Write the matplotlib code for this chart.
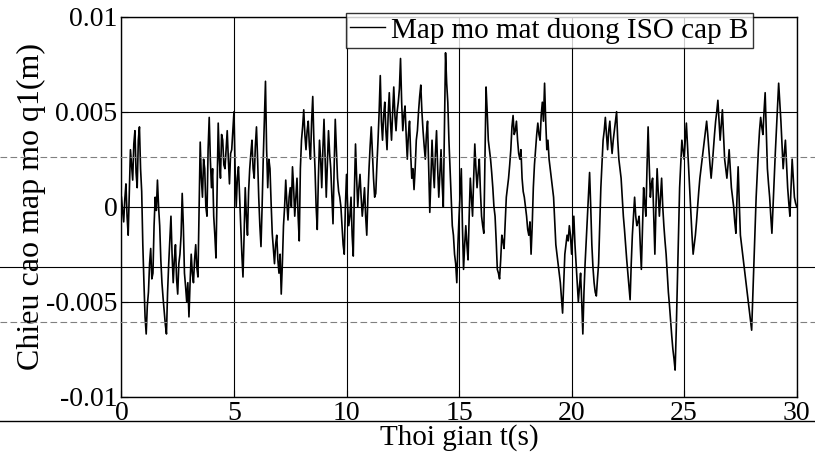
import numpy as np
import matplotlib
matplotlib.use("Agg")
import matplotlib.pyplot as plt
from matplotlib.lines import Line2D

# road roughness q1, every 0.1 s, in units of 1e-4 m
q_raw = [
    5, -8, 12, -15, 30, 14, 40, 10, 42, 8,
    -40, -67, -45, -22, -35, 5, 14, -10, -40, -55,
    -67, -30, -5, -40, -20, -46, -25, 7, -35, -50,
    -58, -25, -40, -20, -37, 34, 5, 20, -5, 47,
    10, -5, -27, 44, 15, 35, 20, 40, 12, 30,
    50, 0, 21, -10, -37, 10, -15, 20, 35, 15,
    42, 5, -21, 25, 66, 10, 20, -14, -30, -15,
    -35, -46, -10, 14, -7, 10, 21, -5, 15, -18,
    35, 51, 30, 45, 25, 58, 20, -12, 35, 10,
    46, 5, 40, 20, -9, 46, 15, 5, -10, -25,
    17, -10, 5, -26, 33, 0, 17, -5, 10, -15,
    20, 42, 15, 7, 35, 69, 35, 55, 30, 60,
    35, 63, 40, 55, 78, 40, 53, 25, 45, 15,
    9, 35, 50, 64, 40, 25, 45, -3, 35, 10,
    40, 5, 30, 0, 81, 55, 20, -10, -25, -40,
    -5, 20, -33, -10, -28, 15, -5, 33, 10, 25,
    -5, -14, 63, 35, 25, 10, -5, -33, -38, -15,
    -22, 5, 15, 30, 48, 40, 35, 25, 15, 5,
    -5, -15, -25, 10, 30, 44, 35, 55, 65, 30,
    25, 15, 5, -20, -30, -40, -56, -25, -15, -10,
    -25, -5, -30, -50, -35, -67, -30, -5, 18, -20,
    -40, -47, -30, 10, 35, 47, 30, 45, 28, 40,
    50, 25, 15, -5, -20, -35, -49, -15, 5, -10,
    -5, -33, 10, -5, 42, 5, 15, -25, 20, -5,
    15, -10, -25, -45, -60, -75, -86, -40, 10, 35,
    25, 44, 20, -5, -25, -15, 0, 15, 25, 35,
    45, 30, 15, 30, 45, 56, 35, 51, 25, 15,
    30, 10, 0, -14, 21, -15, -25, -35, -45, -55,
    -65, -30, 5, 30, 47, 38, 60, 20, 5, -14,
    15, 40, 65, 45, 20, 35, 10, -5, 25, 5,
    0,
]
# the jitter between those samples (at t + 0.05 s)
q_mid = [
    -2, 4, -5, 8, 22, 33, 18, 35, 20, -20,
    -58, -52, -30, -38, -10, -2, 0, -28, -48, -62,
    -45, -18, -25, -28, -38, -30, -15, -10, -42, -40,
    -40, -35, -28, -32, 0, 15, 25, 0, 30, 25,
    20, -15, 10, 25, 38, 22, 30, 25, 28, 40,
    20, 15, 5, -25, -15, -5, 8, 28, 20, 32,
    25, -10, 0, 45, 30, 25, 2, -22, -20, -28,
    -25, -30, 0, 2, 5, 0, 10, 5, -5, 20,
    42, 38, 40, 32, 45, 35, 0, 15, 25, 30,
    25, 22, 28, 5, 20, 30, 8, 0, -20, 0,
    0, -5, -15, 8, 15, 10, 5, 2, -5, 5,
    32, 28, 5, 22, 50, 45, 48, 40, 48, 45,
    50, 48, 50, 62, 55, 48, 38, 38, 28, 20,
    20, 40, 58, 50, 32, 38, 20, 15, 20, 28,
    20, 18, 12, 40, 65, 35, 5, -15, -30, -20,
    8, -10, -20, -20, -5, 5, 15, 20, 18, 8,
    -10, 25, 50, 30, 18, 0, -18, -35, -28, -18,
    -8, 10, 22, 42, 38, 45, 28, 30, 8, 0,
    -12, -8, -10, 22, 38, 38, 48, 45, 45, 35,
    20, 10, -8, -25, -35, -48, -40, -20, -18, -15,
    -15, -20, -40, -42, -50, -45, -18, 5, 0, -32,
    -45, -38, -10, 22, 40, 38, 40, 35, 35, 45,
    35, 20, 5, -12, -28, -42, -30, -5, -5, -8,
    -20, -12, 2, 20, 22, 12, -5, 0, 8, 5,
    0, -18, -35, -52, -68, -80, -65, -15, 22, 30,
    35, 32, 8, -15, -20, -8, 8, 20, 30, 40,
    38, 22, 22, 38, 50, 45, 43, 38, 20, 22,
    20, 5, -8, 5, 2, -20, -30, -40, -50, -60,
    -48, -12, 18, 40, 42, 50, 40, 12, -5, 0,
    28, 52, 55, 32, 28, 22, 2, 10, 15, 2,
]
t_end = 30
x_ticks = [0, 5, 10, 15, 20, 25, 30]
y_ticks = [-0.01, -0.005, 0, 0.005, 0.01]
y_ticklabels = ["-0.01", "-0.005", "0", "0.005", "0.01"]

q = np.empty(len(q_raw) + len(q_mid))
q[0::2] = q_raw
q[1::2] = q_mid
q = q * 1e-4
t = np.linspace(0, t_end, len(q))

plt.rcParams["font.family"] = ["Liberation Serif", "DejaVu Serif"]

fig = plt.figure(figsize=(8.15, 4.61), dpi=100)
ax = fig.add_axes([0.149, 0.1395, 0.8285, 0.8243])

ax.plot(t, q, color="black", linewidth=1.2, label="Map mo mat duong ISO cap B")

ax.set_xlim(0, t_end)
ax.set_ylim(-0.01, 0.01)
ax.set_xticks(x_ticks)
ax.set_yticks(y_ticks)
ax.set_yticklabels(y_ticklabels)
ax.tick_params(direction="in", labelsize=20, length=5, width=0.8, pad=3)
ax.grid(True, color="black", linewidth=0.8, linestyle="-")
for s in ax.spines.values():
    s.set_linewidth(1.0)

ax.set_xlabel("Thoi gian t(s)", fontsize=21, labelpad=-1)
ax.set_ylabel("Chieu cao map mo q1(m)", fontsize=23, labelpad=0)

leg = ax.legend(loc="upper right", bbox_to_anchor=(0.935, 1.01), fontsize=21,
                frameon=True, fancybox=False, handlelength=1.2,
                handletextpad=0.2, borderpad=0.15, borderaxespad=0)
leg.get_frame().set_edgecolor("black")
leg.get_frame().set_linewidth(1.0)
leg.get_lines()[0].set_linewidth(1.0)

# ruled lines of the scanned notebook page
fig.add_artist(Line2D([0, 1], [1 - 267 / 461] * 2, color="black", lw=0.8))
fig.add_artist(Line2D([0, 1], [1 - 157 / 461] * 2, color="gray", lw=0.8, ls=(0, (6, 3))))
fig.add_artist(Line2D([0, 1], [1 - 322 / 461] * 2, color="gray", lw=0.8, ls=(0, (6, 3))))
fig.add_artist(Line2D([0, 1], [1 - 421 / 461] * 2, color="black", lw=1.0))

fig.savefig("out.png", dpi=100)
